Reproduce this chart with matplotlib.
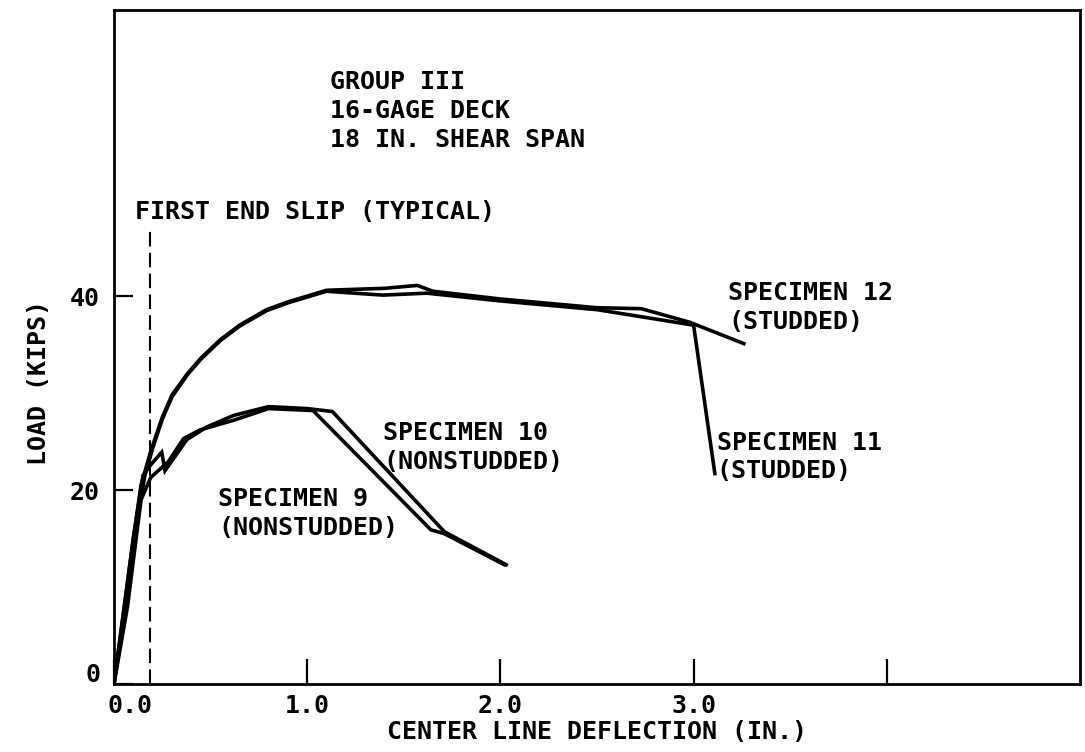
import matplotlib
matplotlib.use("Agg")
import matplotlib.pyplot as plt
from matplotlib.transforms import ScaledTranslation

plt.rcParams['font.family'] = ['DejaVu Sans Mono']
plt.rcParams['font.weight'] = 'bold'
plt.rcParams['axes.labelweight'] = 'bold'

# Load-deflection records, Group III (16-gage deck, 18 in. shear span)
spec12_x = [0.0, 0.05, 0.10, 0.14, 0.19, 0.25, 0.30, 0.38, 0.45, 0.55, 0.65, 0.79,
            0.90, 1.00, 1.10, 1.40, 1.57, 1.65, 2.00, 2.50, 2.73, 2.98, 3.26]
spec12_y = [0.0, 7.5, 15.0, 20.5, 24.0, 27.5, 29.8, 32.0, 33.6, 35.5, 37.0, 38.6,
            39.4, 40.0, 40.6, 40.8, 41.1, 40.5, 39.7, 38.8, 38.7, 37.3, 35.1]

spec11_x = [0.0, 0.06, 0.12, 0.16, 0.20, 0.25, 0.30, 0.38, 0.45, 0.55, 0.65, 0.79,
            0.90, 1.00, 1.10, 1.39, 1.62, 2.00, 2.50, 2.72, 3.00, 3.11]
spec11_y = [0.0, 8.0, 17.0, 21.5, 24.3, 27.3, 29.6, 31.9, 33.5, 35.4, 36.9, 38.5,
            39.3, 39.9, 40.5, 40.1, 40.3, 39.5, 38.6, 37.9, 37.0, 21.7]

spec10_x = [0.0, 0.04, 0.10, 0.15, 0.19, 0.247, 0.264, 0.377, 0.48, 0.62, 0.80,
            1.00, 1.13, 1.71, 2.03]
spec10_y = [0.0, 6.0, 15.0, 21.5, 22.6, 23.9, 22.0, 25.2, 26.5, 27.7, 28.6,
            28.4, 28.1, 15.7, 12.3]

spec9_x = [0.0, 0.07, 0.14, 0.19, 0.28, 0.36, 0.445, 0.62, 0.80, 1.03, 1.64, 1.71, 2.02]
spec9_y = [0.0, 8.0, 19.0, 21.3, 22.9, 25.3, 26.2, 27.2, 28.4, 28.2, 15.9, 15.5, 12.3]

first_slip_x = 0.185
first_slip_top = 47.1

x_ticks = [0.0, 1.0, 2.0, 3.0, 4.0]
x_tick_labels = ['0.0', '1.0', '2.0', '3.0', '']
y_ticks = [0, 20, 40]
y_tick_labels = ['0', '20', '40']

fig = plt.figure(figsize=(10.85, 7.52), dpi=100)
ax = fig.add_axes([114 / 1085, 68 / 752, 966 / 1085, 674 / 752])

for xs, ys in [(spec12_x, spec12_y), (spec11_x, spec11_y),
               (spec10_x, spec10_y), (spec9_x, spec9_y)]:
    ax.plot(xs, ys, color='black', lw=2.6, solid_joinstyle='miter')

ax.plot([first_slip_x, first_slip_x], [0, first_slip_top], color='black',
        lw=1.5, linestyle=(0, (7, 3)))

ax.set_xlim(0, 5.0)
ax.set_ylim(0, 69.5)

ax.set_xticks(x_ticks)
ax.set_xticklabels(x_tick_labels)
ax.set_yticks(y_ticks)
ax.set_yticklabels(y_tick_labels)
ax.tick_params(axis='x', direction='in', length=18, width=1.6, pad=7, labelsize=18)
ax.tick_params(axis='y', direction='in', length=14, width=1.6, pad=10, labelsize=18)

# nudge the corner labels apart so 0.0 and 0 do not collide
dpi_tr = fig.dpi_scale_trans
lbl = ax.get_xticklabels()[0]
lbl.set_transform(lbl.get_transform() + ScaledTranslation(0.16, 0, dpi_tr))
lbl = ax.get_yticklabels()[0]
lbl.set_transform(lbl.get_transform() + ScaledTranslation(0, 0.11, dpi_tr))

for side in ['left', 'right', 'top', 'bottom']:
    ax.spines[side].set_linewidth(2.0)

ax.set_xlabel('CENTER LINE DEFLECTION (IN.)', fontsize=18, va='top')
ax.xaxis.set_label_coords(0.5, -0.053)
ax.set_ylabel('LOAD (KIPS)', fontsize=18, va='center')
ax.yaxis.set_label_coords(-0.078, 0.447)

txt = dict(fontsize=18, ha='left', va='center', linespacing=1.25)
ax.text(1.119, 59.1, 'GROUP III\n16-GAGE DECK\n18 IN. SHEAR SPAN', **txt)
ax.text(0.109, 48.7, 'FIRST END SLIP (TYPICAL)', **txt)
ax.text(3.18, 38.8, 'SPECIMEN 12\n(STUDDED)', **txt)
ax.text(3.12, 23.4, 'SPECIMEN 11\n(STUDDED)', **txt)
ax.text(1.394, 24.4, 'SPECIMEN 10\n(NONSTUDDED)', **txt)
ax.text(0.539, 17.6, 'SPECIMEN 9\n(NONSTUDDED)', **txt)

fig.savefig('out.png', dpi=100)
